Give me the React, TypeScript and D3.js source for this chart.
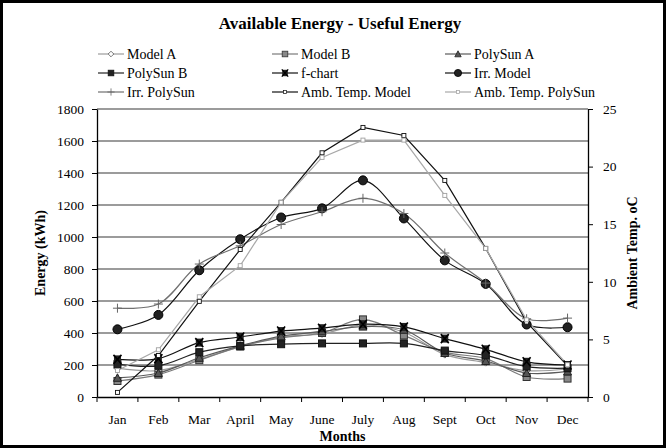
import { useEffect, useRef } from 'react'
import * as d3 from 'd3'

const months = ['Jan', 'Feb', 'Mar', 'April', 'May', 'June', 'July', 'Aug', 'Sept', 'Oct', 'Nov', 'Dec']

// energy series (kWh), left axis
const modelA = [180, 165, 235, 315, 375, 395, 450, 405, 265, 215, 165, 175]
const modelB = [100, 140, 230, 315, 370, 400, 485, 385, 280, 240, 125, 115]
const polySunA = [120, 150, 245, 320, 380, 410, 440, 420, 275, 225, 150, 160]
const polySunB = [205, 195, 280, 320, 330, 335, 335, 335, 290, 260, 190, 180]
const fChart = [235, 240, 340, 375, 412, 430, 455, 438, 365, 298, 220, 200]
const irrModel = [423, 513, 792, 986, 1122, 1179, 1354, 1116, 854, 707, 453, 436]
const irrPolySun = [555, 581, 831, 945, 1078, 1158, 1242, 1147, 900, 712, 489, 493]

// ambient temperature (oC), right axis
const ambTempModel = [0.4, 3.6, 8.3, 12.8, 16.9, 21.2, 23.4, 22.7, 18.8, 12.9, 6.5, 2.7]
const ambTempPolySun = [2.3, 4.1, 8.7, 11.4, 16.9, 20.8, 22.3, 22.3, 17.5, 12.9, 6.7, 2.8]

const energyTicks = d3.range(0, 1801, 200)
const tempTicks = [0, 5, 10, 15, 20, 25]

type Marker = 'diamond' | 'square' | 'triangle' | 'xsquare' | 'circle' | 'plus' | 'small'

interface Series {
  name: string
  values: number[]
  axis: 'left' | 'right'
  stroke: string
  marker: Marker
  fill: string
  mstroke: string
  smooth: boolean
}

const series: Series[] = [
  { name: 'Model A', values: modelA, axis: 'left', stroke: '#9a9a9a', marker: 'diamond', fill: '#fff', mstroke: '#555', smooth: true },
  { name: 'Model B', values: modelB, axis: 'left', stroke: '#7a7a7a', marker: 'square', fill: '#888', mstroke: '#333', smooth: true },
  { name: 'PolySun A', values: polySunA, axis: 'left', stroke: '#5a5a5a', marker: 'triangle', fill: '#555', mstroke: '#222', smooth: true },
  { name: 'PolySun B', values: polySunB, axis: 'left', stroke: '#222', marker: 'square', fill: '#222', mstroke: '#111', smooth: true },
  { name: 'f-chart', values: fChart, axis: 'left', stroke: '#111', marker: 'xsquare', fill: '#222', mstroke: '#000', smooth: true },
  { name: 'Irr. Model', values: irrModel, axis: 'left', stroke: '#111', marker: 'circle', fill: '#222', mstroke: '#000', smooth: true },
  { name: 'Irr. PolySun', values: irrPolySun, axis: 'left', stroke: '#707070', marker: 'plus', fill: 'none', mstroke: '#666', smooth: true },
  { name: 'Amb. Temp. Model', values: ambTempModel, axis: 'right', stroke: '#111', marker: 'small', fill: '#fff', mstroke: '#111', smooth: false },
  { name: 'Amb. Temp. PolySun', values: ambTempPolySun, axis: 'right', stroke: '#a8a8a8', marker: 'small', fill: '#fff', mstroke: '#a0a0a0', smooth: false },
]

const W = 666
const H = 448
const font = '"Liberation Serif", "Times New Roman", serif'

function drawMarker(g: d3.Selection<SVGGElement, unknown, null, undefined>, s: Series, cx: number, cy: number, k = 1) {
  const m = g.append('g').attr('transform', `translate(${cx},${cy}) scale(${k})`)
  if (s.marker === 'diamond') {
    m.append('path').attr('d', 'M0,-3.5L3.5,0L0,3.5L-3.5,0Z').attr('fill', s.fill).attr('stroke', s.mstroke).attr('stroke-width', 1)
  } else if (s.marker === 'square') {
    m.append('rect').attr('x', -3.5).attr('y', -3.5).attr('width', 7).attr('height', 7).attr('fill', s.fill).attr('stroke', s.mstroke).attr('stroke-width', 1)
  } else if (s.marker === 'triangle') {
    m.append('path').attr('d', 'M0,-4L4,3.5L-4,3.5Z').attr('fill', s.fill).attr('stroke', s.mstroke).attr('stroke-width', 1)
  } else if (s.marker === 'xsquare') {
    m.append('rect').attr('x', -3.5).attr('y', -4).attr('width', 7).attr('height', 8).attr('fill', s.fill)
    m.append('path').attr('d', 'M-4,-4.5L4,4.5M4,-4.5L-4,4.5').attr('stroke', '#000').attr('stroke-width', 1.6)
  } else if (s.marker === 'circle') {
    m.append('circle').attr('r', 4.5).attr('fill', s.fill).attr('stroke', s.mstroke)
  } else if (s.marker === 'plus') {
    m.append('path').attr('d', 'M-4.5,0L4.5,0M0,-4.5L0,4.5').attr('stroke', s.mstroke).attr('stroke-width', 1)
  } else {
    m.append('rect').attr('x', -2).attr('y', -2).attr('width', 4).attr('height', 4).attr('fill', s.fill).attr('stroke', s.mstroke).attr('stroke-width', 0.9)
  }
}

export default function App() {
  const svgRef = useRef<SVGSVGElement | null>(null)

  useEffect(() => {
    const margin = { top: 109, right: 78, bottom: 51, left: 97 }
    const svg = d3.select(svgRef.current)
    svg.selectAll('*').remove()

    svg.append('rect').attr('x', 1.5).attr('y', 1.5).attr('width', W - 3).attr('height', H - 3)
      .attr('fill', '#fff').attr('stroke', '#000').attr('stroke-width', 3)

    const x = d3.scaleBand<string>().domain(months).range([margin.left, W - margin.right]).padding(0)
    const cx = (m: string) => (x(m) as number) + x.bandwidth() / 2
    const y = d3.scaleLinear().domain([0, 1800]).range([H - margin.bottom, margin.top])
    const y2 = d3.scaleLinear().domain([0, 25]).range([H - margin.bottom, margin.top])

    // ================= GRID =================
    svg.append('g').selectAll('line').data(energyTicks.filter((d) => d > 0)).join('line')
      .attr('x1', margin.left).attr('x2', W - margin.right)
      .attr('y1', (d) => y(d)).attr('y2', (d) => y(d))
      .attr('stroke', '#7a7a7a').attr('stroke-width', 1.4)

    // ================= AXES =================
    const styleAxis = (g: d3.Selection<SVGGElement, unknown, null, undefined>) => {
      g.selectAll('text').attr('font-family', font).attr('font-size', 13.5).attr('fill', '#000')
      g.selectAll('line').attr('stroke', '#000')
      g.select('.domain').attr('stroke', '#000').attr('stroke-width', 1.3)
    }

    svg.append('g').attr('transform', `translate(${margin.left},0)`)
      .call(d3.axisLeft(y).tickValues(energyTicks).tickSize(5).tickSizeOuter(0).tickPadding(8).tickFormat(d3.format('d')))
      .call(styleAxis)

    svg.append('g').attr('transform', `translate(${W - margin.right},0)`)
      .call(d3.axisRight(y2).tickValues(tempTicks).tickSize(5).tickSizeOuter(0).tickPadding(10))
      .call(styleAxis)

    const xa = svg.append('g').attr('transform', `translate(0,${H - margin.bottom})`)
      .call(d3.axisBottom(x).tickSize(0).tickPadding(17))
      .call(styleAxis)
    xa.selectAll('.bound').data(d3.range(months.length + 1)).join('line')
      .attr('class', 'bound')
      .attr('x1', (i) => margin.left + i * x.bandwidth()).attr('x2', (i) => margin.left + i * x.bandwidth())
      .attr('y1', 0).attr('y2', 5).attr('stroke', '#000')

    // ================= SERIES =================
    const plot = svg.append('g')
    series.forEach((s) => {
      const sc = s.axis === 'left' ? y : y2
      const line = d3.line<number>()
        .x((_, i) => cx(months[i]))
        .y((v) => sc(v))
        .curve(s.smooth ? d3.curveCatmullRom.alpha(0.5) : d3.curveLinear)
      plot.append('path').datum(s.values).attr('d', line)
        .attr('fill', 'none').attr('stroke', s.stroke).attr('stroke-width', 1.2)
    })
    series.forEach((s) => {
      const sc = s.axis === 'left' ? y : y2
      const mg = plot.append('g')
      s.values.forEach((v, i) => drawMarker(mg, s, cx(months[i]), sc(v)))
    })

    // ================= LEGEND =================
    const legendX = [98, 272, 445]
    const legendY = [54, 73, 92]
    series.forEach((s, i) => {
      const lx = legendX[i % 3]
      const ly = legendY[Math.floor(i / 3)]
      const lg = svg.append('g')
      lg.append('line').attr('x1', lx).attr('x2', lx + 26).attr('y1', ly).attr('y2', ly)
        .attr('stroke', s.stroke).attr('stroke-width', 1.2)
      drawMarker(lg, s, lx + 13, ly, 0.8)
      lg.append('text').attr('x', lx + 29).attr('y', ly).attr('dy', '0.35em')
        .attr('font-family', font).attr('font-size', 14).text(s.name)
    })

    // ================= TITLES =================
    svg.append('text').attr('x', 340).attr('y', 23).attr('dy', '0.35em').attr('text-anchor', 'middle')
      .attr('font-family', font).attr('font-size', 17).attr('font-weight', 'bold').text('Available Energy - Useful Energy')

    svg.append('text').attr('x', (margin.left + W - margin.right) / 2).attr('y', 436).attr('dy', '0.35em')
      .attr('text-anchor', 'middle').attr('font-family', font).attr('font-size', 14).attr('font-weight', 'bold').text('Months')

    svg.append('text').attr('transform', `translate(40,${(margin.top + H - margin.bottom) / 2}) rotate(-90)`)
      .attr('dy', '0.35em').attr('text-anchor', 'middle').attr('font-family', font).attr('font-size', 14)
      .attr('font-weight', 'bold').text('Energy (kWh)')

    svg.append('text').attr('transform', `translate(632,${(margin.top + H - margin.bottom) / 2}) rotate(-90)`)
      .attr('dy', '0.35em').attr('text-anchor', 'middle').attr('font-family', font).attr('font-size', 14)
      .attr('font-weight', 'bold').text('Ambient Temp. oC')
  }, [])

  return <svg ref={svgRef} width={W} height={H} style={{ position: 'absolute', left: 0, top: 0, display: 'block' }} />
}
